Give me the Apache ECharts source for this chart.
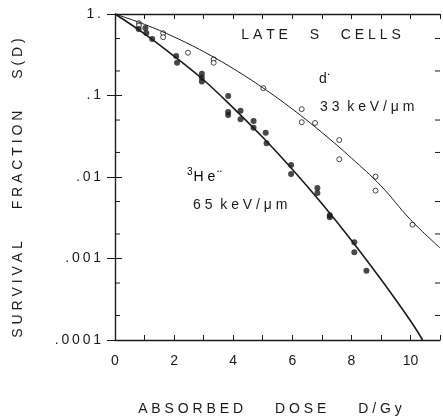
<!DOCTYPE html>
<html>
<head>
<meta charset="utf-8">
<script src="https://cdn.jsdelivr.net/npm/echarts@6/dist/echarts.min.js"></script>
<style>
html,body{margin:0;padding:0;background:#fff;}
#c{width:443px;height:416px;}
</style>
</head>
<body>
<div id="c"></div>
<script>
// ---- data ----
// d+ (33 keV/um) measured points (open circles)
const dDose = [0.81, 0.81, 1.63, 1.63, 2.47, 3.34, 3.34, 5.02, 6.32, 6.32, 6.77, 7.59, 7.59, 8.82, 8.82, 10.07];
const dSurv = [0.77, 0.72, 0.58, 0.52, 0.335, 0.278, 0.252, 0.123, 0.068, 0.047, 0.046, 0.0284, 0.0165, 0.0101, 0.0068, 0.0026];
// 3He++ (65 keV/um) measured points (filled circles)
const heDose = [0.80, 1.03, 1.06, 1.26, 2.07, 2.10, 2.94, 2.94, 2.94, 3.83, 3.83, 3.83, 4.25, 4.25, 4.69, 4.69, 5.10, 5.13, 5.96, 5.96, 6.85, 6.85, 7.27, 7.27, 8.10, 8.10, 8.51];
const heSurv = [0.655, 0.673, 0.585, 0.493, 0.305, 0.252, 0.185, 0.165, 0.148, 0.0986, 0.0628, 0.0577, 0.065, 0.051, 0.0487, 0.0403, 0.035, 0.0259, 0.0140, 0.0109, 0.00733, 0.00637, 0.0034, 0.0032, 0.00158, 0.00119, 0.000708];
// fitted curves
const dCurveDose = [0, 1, 2, 3, 4, 5, 6, 7, 8, 9, 10, 11];
const dCurveSurv = [1, 0.746, 0.523, 0.345, 0.214, 0.1246, 0.0683, 0.0352, 0.0171, 0.0078, 0.0030, 0.00135];
const heCurveDose = [0, 1, 2, 3, 4, 5, 6, 7, 8, 9, 10, 10.41];
const heCurveSurv = [1, 0.571, 0.304, 0.155, 0.0706, 0.0307, 0.01245, 0.00473, 0.001675, 0.000555, 0.000172, 0.0001];
// tick labels
const yTickLabels = ["1.", ".1", ".01", ".001", ".0001"];
const xTickLabels = ["0", "2", "4", "6", "8", "10"];
const yMinorTicks = [0.5, 0.2, 0.05, 0.02, 0.005, 0.002, 0.0005, 0.0002];
// texts
const xTitle = "ABSORBED DOSE D/Gy";
const yTitle = "SURVIVAL FRACTION S(D)";
const panelTitle = "LATE S CELLS";

// ---- helpers ----
const INK = '#1a1a1a';
const FONT = 'Liberation Sans';
function spaced(s, gap, wordGap) {
  return s.split(' ').map(w => w.split('').join(gap)).join(wordGap);
}
const zip = (a, b) => a.map((v, i) => [v, b[i]]);

const chart = echarts.init(document.getElementById('c'), null, {renderer: 'canvas'});

const tickCommon = {lineStyle: {color: INK, width: 1}};
const option = {
  backgroundColor: '#fff',
  animation: false,
  grid: {left: 115, top: 14, width: 331, height: 326, containLabel: false},
  xAxis: [{
    type: 'value', position: 'bottom', min: 0, max: 11, interval: 1,
    axisLine: {lineStyle: {color: INK, width: 1.3}},
    axisTick: Object.assign({inside: true, length: 5}, tickCommon),
    splitLine: {show: false},
    axisLabel: {
      color: INK, fontFamily: FONT, fontSize: 14, margin: 14,
      formatter: v => { const i = xTickLabels.indexOf(String(v)); return i >= 0 ? xTickLabels[i] : ''; }
    }
  }, {
    type: 'value', position: 'top', min: 0, max: 11, interval: 1,
    axisLine: {lineStyle: {color: INK, width: 1.3}},
    axisTick: Object.assign({inside: true, length: 5}, tickCommon),
    splitLine: {show: false},
    axisLabel: {show: false}
  }],
  yAxis: [{
    type: 'log', logBase: 10, min: 0.0001, max: 1, position: 'left',
    axisLine: {lineStyle: {color: INK, width: 1.2}},
    axisTick: Object.assign({inside: true, length: 7}, tickCommon),
    splitLine: {show: false},
    axisLabel: {
      color: INK, fontFamily: FONT, fontSize: 14, margin: 14,
      formatter: v => {
        const k = Math.round(-Math.log10(v));
        return yTickLabels[k] !== undefined ? yTickLabels[k].split('').join('\u2009') : '';
      }
    }
  }, {
    type: 'log', logBase: 10, min: 0.0001, max: 1, position: 'right',
    axisLine: {lineStyle: {color: INK, width: 1.2}},
    axisTick: Object.assign({inside: true, length: 8}, tickCommon),
    splitLine: {show: false},
    axisLabel: {show: false}
  }],
  series: [
    {
      type: 'custom', xAxisIndex: 0, yAxisIndex: 0, silent: true, clip: false,
      data: yMinorTicks.map(v => [0, v]),
      renderItem: (params, api) => {
        const v = api.value(1);
        const l = api.coord([0, v]);
        const r = api.coord([11, v]);
        const st = {stroke: INK, lineWidth: 1};
        return {type: 'group', children: [
          {type: 'line', shape: {x1: l[0], y1: l[1], x2: l[0] + 5, y2: l[1]}, style: st},
          {type: 'line', shape: {x1: r[0] - 5, y1: r[1], x2: r[0], y2: r[1]}, style: st}
        ]};
      }
    },
    {
      name: 'd+ fit', type: 'line', smooth: 0.4, symbol: 'none',
      data: zip(dCurveDose, dCurveSurv),
      lineStyle: {color: INK, width: 1}
    },
    {
      name: '3He++ fit', type: 'line', smooth: 0.4, symbol: 'none',
      data: zip(heCurveDose, heCurveSurv),
      lineStyle: {color: INK, width: 1.6}
    },
    {
      name: 'd+', type: 'scatter', symbol: 'circle', symbolSize: 5,
      data: zip(dDose, dSurv),
      itemStyle: {color: '#fff', borderColor: INK, borderWidth: 1}
    },
    {
      name: '3He++', type: 'scatter', symbol: 'circle', symbolSize: 6,
      data: zip(heDose, heSurv),
      itemStyle: {color: INK}
    }
  ],
  graphic: [
    {type: 'text', x: 270, y: 409, style: {text: spaced(xTitle, ' ', '\u2003\u2003 '), fill: INK, font: '14px "' + FONT + '"', align: 'center', verticalAlign: 'middle'}},
    {type: 'text', x: 18, y: 188, rotation: Math.PI / 2, style: {text: spaced(yTitle, ' ', '\u2003\u2003 '), fill: INK, font: '14px "' + FONT + '"', align: 'center', verticalAlign: 'middle'}},
    {type: 'text', x: 321, y: 35, style: {text: spaced(panelTitle, ' ', '\u2003  '), fill: INK, font: '14px "' + FONT + '"', align: 'center', verticalAlign: 'middle'}},
    {type: 'text', x: 319, y: 79, style: {
      text: '{b|d}{s|\u2022}', verticalAlign: 'middle',
      rich: {b: {fontFamily: FONT, fontSize: 14, fill: INK, color: INK}, s: {fontSize: 5, color: INK, verticalAlign: 'top', padding: [0, 0, 8, 1]}}
    }},
    {type: 'text', x: 320, y: 107, style: {text: spaced('33 keV/\u03bcm', ' ', '  '), fill: INK, font: '14px "' + FONT + '"', verticalAlign: 'middle'}},
    {type: 'text', x: 187, y: 177, style: {
      text: '{p|3}{b|H e}{s|\u2022\u2009\u2022}', verticalAlign: 'middle',
      rich: {p: {fontFamily: FONT, fontSize: 10, color: INK, padding: [0, 1, 10, 0]}, b: {fontFamily: FONT, fontSize: 14, color: INK}, s: {fontSize: 5, color: INK, padding: [0, 0, 10, 2]}}
    }},
    {type: 'text', x: 193, y: 205, style: {text: spaced('65 keV/\u03bcm', ' ', '  '), fill: INK, font: '14px "' + FONT + '"', verticalAlign: 'middle'}}
  ]
};
chart.setOption(option);
</script>
</body>
</html>
